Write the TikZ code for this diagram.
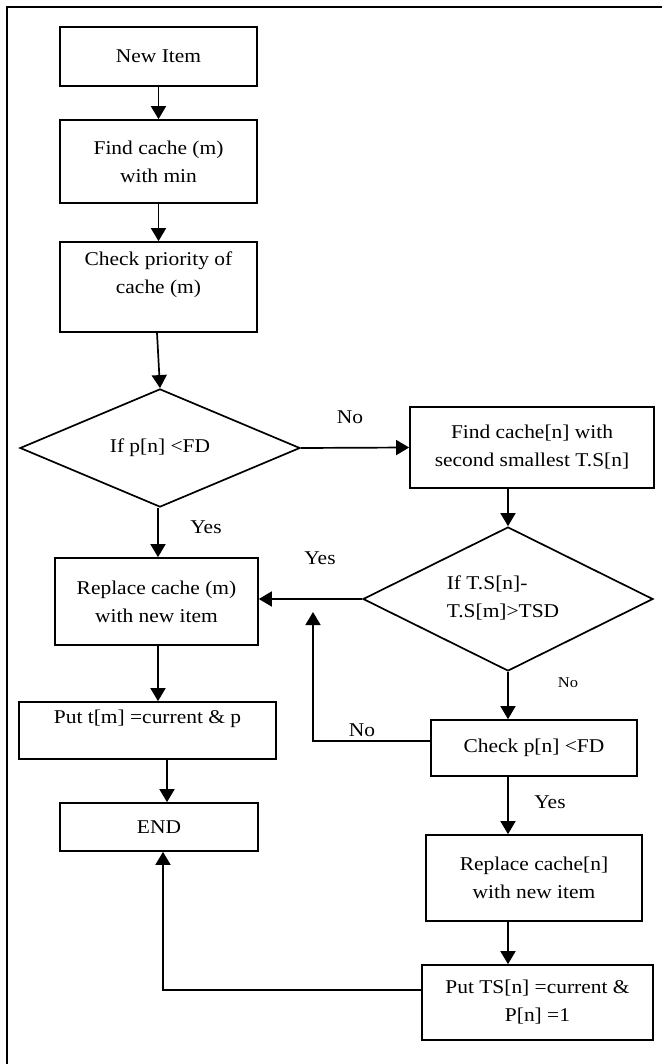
\documentclass[tikz,border=0pt]{standalone}
\usepackage{fontspec}
\setmainfont{Liberation Serif}[FakeStretch=1.1]
\usetikzlibrary{shapes.geometric,arrows.meta,calc}
\begin{document}
\begin{tikzpicture}[x=1pt,y=-1pt,
  every node/.style={font=\fontsize{19.5}{28}\selectfont},
  stepbox/.style={draw,line width=1.7pt,rectangle,inner sep=0pt,align=center},
  decision/.style={draw,line width=1.7pt,diamond,inner sep=0pt,align=center},
  conn/.style={line width=1.7pt,-{Triangle[width=15pt,length=13pt]}},
  lbl/.style={inner sep=0pt},
  smalllbl/.style={inner sep=0pt,font=\fontsize{15}{18}\selectfont}]
\useasboundingbox (0,0) rectangle (662,1064);
% outer frame (only top and left edges visible)
\draw[line width=2.2pt] (7,1064) -- (7,7) -- (662,7);

% left column
\node[stepbox,minimum width=197pt,minimum height=59pt] (new) at (158.5,56.5) {New Item};
\node[stepbox,minimum width=197pt,minimum height=83pt] (find) at (158.5,161.5) {Find cache (m)\\with min};
\node[stepbox,minimum width=197pt,minimum height=90pt] (check) at (158.5,287) {Check priority of\\cache (m)\\\mbox{}};
\node[decision,minimum width=280pt,minimum height=110pt] (d1) at (160,448) {If p[n] <FD};
\node[stepbox,minimum width=203pt,minimum height=87pt] (replm) at (156.5,601.5) {Replace cache (m)\\with new item};
\node[stepbox,minimum width=257pt,minimum height=57pt] (putt) at (147.5,730.5) {Put t[m] =current \& p\\\mbox{}};
\node[stepbox,minimum width=198pt,minimum height=48pt] (end) at (159,827) {END};

% right column
\node[stepbox,minimum width=244pt,minimum height=81pt] (findn) at (532,447.5) {Find cache[n] with\\second smallest T.S[n]};
\node[decision,minimum width=290pt,minimum height=144pt] (d2) at (508,599) {};
\node[lbl,align=left] (d2t) at (503,598) {If T.S[n]-\\T.S[m]>TSD};
\node[stepbox,minimum width=206pt,minimum height=56pt] (checkp) at (534,748) {Check p[n] <FD};
\node[stepbox,minimum width=216pt,minimum height=86pt] (repln) at (534,878) {Replace cache[n]\\with new item};
\node[stepbox,minimum width=231pt,minimum height=75pt] (putts) at (537.5,1002.5) {Put TS[n] =current \&\\P[n] =1};

% labels
\node[lbl] (l1) at (350,417) {No};
\node[lbl] (l2) at (206,527) {Yes};
\node[lbl] (l3) at (320,558) {Yes};
\node[smalllbl] (l4) at (568,683) {No};
\node[lbl] (l5) at (362,730) {No};
\node[lbl] (l6) at (550,802) {Yes};

% connectors
\draw[conn] (new.south) -- (find.north);
\draw[conn] (find.south) -- (check.north);
\draw[conn] (check.south -| 157,0) -- (d1.north);
\draw[conn] (d1.south -| 158,0) -- (replm.north -| 158,0);
\draw[conn] (d1.east) -- (findn.west);
\draw[conn] (findn.south -| d2.north) -- (d2.north);
\draw[conn] (d2.west) -- (d2.west -| replm.east);
\draw[conn] (d2.south) -- (checkp.north -| d2.south);
\coordinate (up) at (313,612);
\draw[conn] ([yshift=7pt]checkp.west) -| (up);
\draw[conn] (checkp.south -| d2.south) -- (repln.north -| d2.south);
\draw[conn] (repln.south -| d2.south) -- (putts.north -| d2.south);
\draw[conn] (replm.south -| 158,0) -- (putt.north -| 158,0);
\draw[conn] (putt.south -| 167,0) -- (end.north -| 167,0);
\draw[conn] ([yshift=12.5pt]putts.west) -| ([xshift=4pt]end.south);
\end{tikzpicture}
\end{document}
